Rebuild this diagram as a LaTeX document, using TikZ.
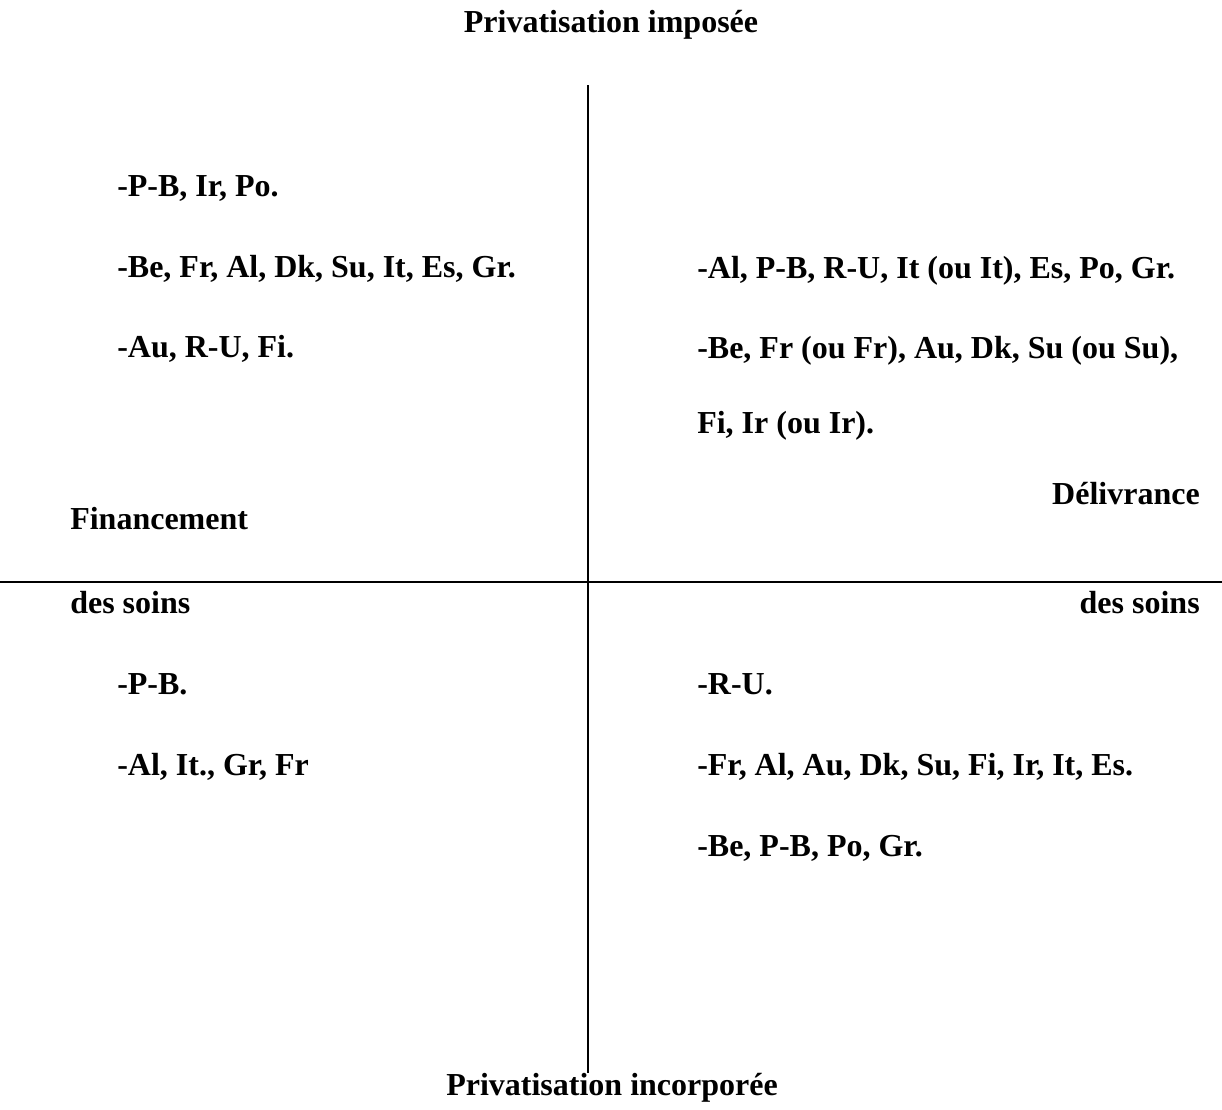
\documentclass[tikz,border=0pt]{standalone}
\usepackage{fontspec}
\setmainfont{Liberation Serif}
\usepackage{tikz}
\usetikzlibrary{positioning}
\tikzstyle{axistitle} = [anchor=base, font=\fontsize{24}{29}\selectfont\bfseries, inner sep=0pt]
\tikzstyle{leftitem} = [anchor=base west, font=\fontsize{24}{29}\selectfont\bfseries, inner sep=0pt]
\tikzstyle{rightitem} = [anchor=base east, font=\fontsize{24}{29}\selectfont\bfseries, inner sep=0pt]
\tikzstyle{axis} = [line width=1.2pt]

\begin{document}
\begin{tikzpicture}[x=0.75pt, y=-0.75pt]
		\useasboundingbox (0,0) rectangle (1222,1110);
		% axes
		\node (top) [axistitle] at (611,32) {Privatisation imposée};
		\node (bottom) [axistitle] at (612,1095) {Privatisation incorporée};
		\coordinate (vtop) at (588,85);
		\coordinate (vbot) at (588,1073);
		\coordinate (hleft) at (0,582);
		\coordinate (hright) at (1222,582);
		\draw [axis] (vtop) -- (vbot);
		\draw [axis] (hleft) -- (hright);
		% left axis label
		\node (fin) [leftitem] at (70,529) {Financement};
		\node (finsoins) [leftitem] at (70,613) {des soins};
		% right axis label
		\node (del) [rightitem] at (1200,504) {Délivrance};
		\node (delsoins) [rightitem] at (1200,613) {des soins};
		% upper left
		\node (ul1) [leftitem] at (117,196) {-P-B, Ir, Po.};
		\node (ul2) [leftitem] at (117,277) {-Be, Fr, Al, Dk, Su, It, Es, Gr.};
		\node (ul3) [leftitem] at (117,357) {-Au, R-U, Fi.};
		% upper right
		\node (ur1) [leftitem] at (697,278) {-Al, P-B, R-U, It (ou It), Es, Po, Gr.};
		\node (ur2) [leftitem] at (697,358) {-Be, Fr (ou Fr), Au, Dk, Su (ou Su),};
		\node (ur3) [leftitem] at (697,433) {Fi, Ir (ou Ir).};
		% lower left
		\node (ll1) [leftitem] at (117,694) {-P-B.};
		\node (ll2) [leftitem] at (117,775) {-Al, It., Gr, Fr};
		% lower right
		\node (lr1) [leftitem] at (697,694) {-R-U.};
		\node (lr2) [leftitem] at (697,775) {-Fr, Al, Au, Dk, Su, Fi, Ir, It, Es.};
		\node (lr3) [leftitem] at (697,856) {-Be, P-B, Po, Gr.};
	\end{tikzpicture}
\end{document}
